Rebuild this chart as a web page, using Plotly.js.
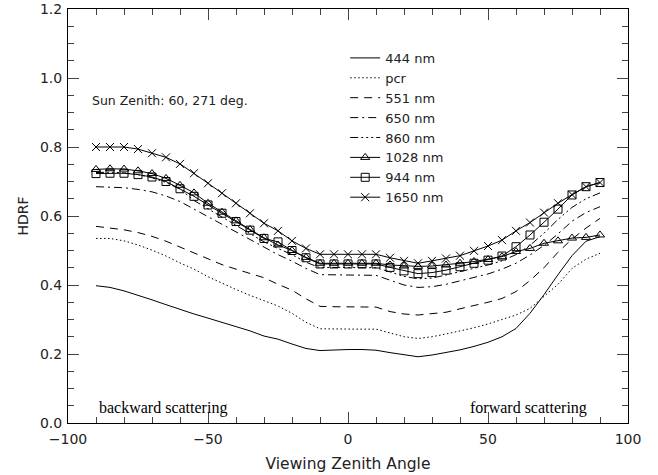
<!DOCTYPE html>
<html>
<head>
<meta charset="utf-8">
<script src="https://cdn.plot.ly/plotly-3.0.1.min.js"></script>
<style>html,body{margin:0;padding:0;background:#fff}#chart{width:658px;height:475px}</style>
</head>
<body>
<div id="chart"></div>
<script>
// Viewing zenith angles (deg)
var vza = [-90,-85,-80,-75,-70,-65,-60,-55,-50,-45,-40,-35,-30,-25,-20,-15,-10,-5,0,5,10,15,20,25,30,35,40,45,50,55,60,65,70,75,80,85,90];

var hdrf444  = [0.398,0.393,0.383,0.371,0.357,0.343,0.329,0.316,0.304,0.292,0.280,0.267,0.252,0.243,0.229,0.216,0.210,0.212,0.213,0.213,0.211,0.204,0.197,0.192,0.197,0.204,0.212,0.222,0.234,0.250,0.274,0.318,0.372,0.430,0.485,0.527,0.540];
var hdrfPcr  = [0.535,0.535,0.528,0.516,0.501,0.484,0.464,0.446,0.424,0.405,0.387,0.370,0.354,0.339,0.318,0.292,0.273,0.272,0.272,0.272,0.272,0.260,0.250,0.245,0.250,0.258,0.266,0.276,0.287,0.299,0.313,0.332,0.366,0.402,0.448,0.475,0.492];
var hdrf551  = [0.570,0.566,0.560,0.552,0.541,0.527,0.510,0.493,0.478,0.459,0.446,0.433,0.421,0.402,0.385,0.360,0.338,0.337,0.337,0.337,0.336,0.323,0.316,0.313,0.316,0.321,0.331,0.340,0.350,0.361,0.381,0.413,0.450,0.495,0.533,0.565,0.593];
var hdrf650  = [0.685,0.684,0.682,0.677,0.670,0.658,0.642,0.620,0.598,0.576,0.553,0.531,0.508,0.488,0.469,0.448,0.430,0.429,0.429,0.429,0.428,0.414,0.400,0.393,0.395,0.402,0.412,0.422,0.432,0.446,0.463,0.487,0.515,0.548,0.585,0.610,0.627];
var hdrf860  = [0.726,0.727,0.725,0.720,0.711,0.697,0.678,0.645,0.621,0.597,0.573,0.549,0.525,0.506,0.488,0.466,0.450,0.451,0.451,0.451,0.450,0.438,0.425,0.418,0.420,0.429,0.438,0.448,0.458,0.470,0.488,0.515,0.550,0.590,0.625,0.650,0.667];
var hdrf1028 = [0.735,0.737,0.736,0.731,0.723,0.709,0.689,0.667,0.637,0.611,0.586,0.561,0.537,0.516,0.500,0.480,0.463,0.463,0.463,0.463,0.463,0.458,0.455,0.454,0.455,0.458,0.463,0.468,0.474,0.482,0.497,0.506,0.521,0.528,0.536,0.538,0.545];
var hdrf944  = [0.723,0.724,0.724,0.720,0.713,0.700,0.679,0.657,0.632,0.608,0.584,0.559,0.535,0.525,0.500,0.479,0.461,0.461,0.461,0.461,0.461,0.451,0.441,0.433,0.436,0.443,0.453,0.463,0.472,0.484,0.511,0.545,0.582,0.620,0.661,0.685,0.697];
var hdrf1650 = [0.800,0.800,0.800,0.794,0.782,0.770,0.751,0.724,0.695,0.666,0.637,0.608,0.579,0.557,0.528,0.506,0.489,0.489,0.489,0.489,0.489,0.479,0.470,0.463,0.470,0.477,0.485,0.499,0.513,0.530,0.557,0.581,0.610,0.637,0.662,0.685,0.697];

var seriesNames = ['444 nm','pcr','551 nm','650 nm','860 nm','1028 nm','944 nm','1650 nm'];
var xTickVals = [-100,-50,0,50,100];
var yTickVals = [0,0.2,0.4,0.6,0.8,1.0,1.2];

var ser = [hdrf444,hdrfPcr,hdrf551,hdrf650,hdrf860,hdrf1028,hdrf944,hdrf1650];
var dashes = ['solid','1.5px,2.5px','8px,6px','8px,4px,2px,4px','8px,3px,2px,3px,2px,3px,2px,3px','solid','solid','solid'];
var symbols = [null,null,null,null,null,'triangle-up-open','square-open','x-thin-open'];

var traces = ser.map(function(y,i){
  var t = {
    x: vza, y: y, name: seriesNames[i], type:'scatter',
    mode: symbols[i] ? 'lines+markers' : 'lines',
    line: {color:'#000', width:1, dash: dashes[i]}
  };
  if (symbols[i]) t.marker = {symbol: symbols[i], size: 8, color:'#000', line:{color:'#000', width:1}};
  return t;
});

var sans = 'DejaVu Sans, sans-serif';
var tickFont = {family:sans, size:14, color:'#222'};
var layout = {
  width:658, height:475,
  margin:{l:68, r:30, t:9, b:52},
  paper_bgcolor:'#fff', plot_bgcolor:'#fff',
  showlegend:true,
  legend:{x:0.495, y:0.918, xanchor:'left', yanchor:'top', bgcolor:'rgba(0,0,0,0)', borderwidth:0,
          font:{family:sans, size:13, color:'#222'}, itemwidth:30},
  xaxis:{range:[-100,100], tickmode:'array', tickvals:xTickVals, ticks:'inside', ticklen:11,
         showline:true, linecolor:'#000', linewidth:1, mirror:'ticks', showgrid:false, zeroline:false,
         tickfont:tickFont, ticklabelstandoff:3,
         minor:{ticks:'inside', ticklen:6, dtick:10, tick0:0, showgrid:false},
         title:{text:'Viewing Zenith Angle', font:{family:sans, size:15.5, color:'#222'}, standoff:12}},
  yaxis:{range:[0,1.2], tickmode:'array', tickvals:yTickVals, ticktext:yTickVals.map(function(v){return v.toFixed(1);}),
         ticks:'inside', ticklen:11, showline:true, linecolor:'#000', linewidth:1, mirror:'ticks',
         showgrid:false, zeroline:false, tickfont:tickFont, ticklabelstandoff:2,
         minor:{ticks:'inside', ticklen:6, dtick:0.05, tick0:0, showgrid:false},
         title:{text:'HDRF', font:{family:sans, size:14, color:'#222'}, standoff:8}},
  annotations:[
    {xref:'paper', yref:'paper', x:0.04, y:0.78, xanchor:'left', yanchor:'middle', showarrow:false,
     text:'Sun Zenith: 60, 271 deg.', font:{family:sans, size:12.5, color:'#222'}},
    {xref:'paper', yref:'paper', x:0.052, y:0.036, xanchor:'left', yanchor:'middle', showarrow:false,
     text:'backward scattering', font:{family:'Liberation Serif, serif', size:16, color:'#000'}},
    {xref:'paper', yref:'paper', x:0.93, y:0.036, xanchor:'right', yanchor:'middle', showarrow:false,
     text:'forward scattering', font:{family:'Liberation Serif, serif', size:16, color:'#000'}}
  ]
};
Plotly.newPlot('chart', traces, layout, {displayModeBar:false, staticPlot:true});
</script>
</body>
</html>
